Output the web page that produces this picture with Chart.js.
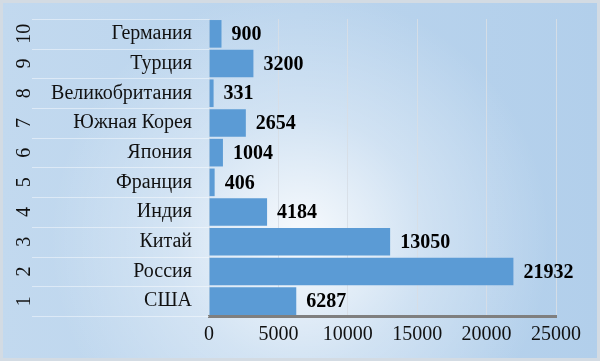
<!DOCTYPE html>
<html>
<head>
<meta charset="utf-8">
<script src="https://cdn.jsdelivr.net/npm/chart.js@4"></script>
<style>
  html, body { margin: 0; padding: 0; background: #fff; }
</style>
</head>
<body>
<canvas id="chart" width="600" height="361"></canvas>
<script>
// data, bottom to top as in the picture
let countries = ["США", "Россия", "Китай", "Индия", "Франция", "Япония", "Южная Корея", "Великобритания", "Турция", "Германия"];
let ranks = ["1", "2", "3", "4", "5", "6", "7", "8", "9", "10"];
let values = [6287, 21932, 13050, 4184, 406, 1004, 2654, 331, 3200, 900];
let xTicks = [0, 5000, 10000, 15000, 20000, 25000];

const serif = "'Liberation Serif', 'Times New Roman', serif";

// soft blue background with a lighter spot
const bgPlugin = {
    id: 'bg',
    beforeDraw(c) {
        let ctx = c.ctx;
        let w = c.width, h = c.height;
        ctx.save();
        let lg = ctx.createLinearGradient(0, 0, w, 0);
        lg.addColorStop(0, '#c2d9ef');
        lg.addColorStop(1, '#b2cfeb');
        ctx.fillStyle = lg;
        ctx.fillRect(0, 0, w, h);
        let rg = ctx.createRadialGradient(300, 240, 0, 300, 240, 250);
        rg.addColorStop(0, 'rgba(255,255,255,0.9)');
        rg.addColorStop(0.5, 'rgba(255,255,255,0.35)');
        rg.addColorStop(1, 'rgba(255,255,255,0)');
        ctx.fillStyle = rg;
        ctx.fillRect(0, 0, w, h);
        ctx.strokeStyle = '#d3dbe3';
        ctx.lineWidth = 3;
        ctx.strokeRect(1.5, 1.5, w - 3, h - 3);
        ctx.restore();
    },
    // row separators in the label column
    beforeDatasetsDraw(c) {
        let ctx = c.ctx;
        let y = c.scales.y;
        let left = c.scales.y2.left + 32;
        let step = Math.abs(y.getPixelForValue(1) - y.getPixelForValue(0));
        ctx.save();
        ctx.strokeStyle = 'rgba(255,255,255,0.45)';
        ctx.lineWidth = 1;
        for (let i = 0; i <= countries.length; i++) {
            let py = Math.round(y.getPixelForValue(i) + step / 2) + 0.5;
            ctx.beginPath();
            ctx.moveTo(left, py);
            ctx.lineTo(c.chartArea.left, py);
            ctx.stroke();
        }
        ctx.restore();
    }
};

const valueLabels = {
    id: 'valueLabels',
    afterDatasetsDraw(c) {
        let ctx = c.ctx;
        let meta = c.getDatasetMeta(0);
        ctx.save();
        ctx.font = 'bold 20px ' + serif;
        ctx.fillStyle = '#000';
        ctx.textAlign = 'left';
        ctx.textBaseline = 'middle';
        meta.data.forEach((bar, i) => {
            ctx.fillText(String(values[i]), bar.x + 10, bar.y + 1);
        });
        ctx.restore();
    }
};

function noPad(s) {
    s.paddingTop = 0;
    s.paddingBottom = 0;
}

chart = new Chart(document.getElementById('chart'), {
    type: 'bar',
    data: {
        labels: countries,
        datasets: [{
            data: values,
            backgroundColor: '#5b9bd5',
            borderWidth: 0,
            barPercentage: 0.93,
            categoryPercentage: 1
        }]
    },
    options: {
        indexAxis: 'y',
        responsive: false,
        animation: false,
        layout: { padding: { top: 19, right: 44, left: 0, bottom: 0 } },
        plugins: { legend: { display: false }, tooltip: { enabled: false } },
        scales: {
            x: {
                min: 0, max: 25000,
                afterBuildTicks: s => { s.ticks = xTicks.map(v => ({ value: v })); },
                grid: { color: 'rgba(215,222,230,0.9)', lineWidth: 1, drawTicks: false },
                border: { display: true, color: '#7f7f7f', width: 3 },
                ticks: {
                    color: '#111', font: { family: serif, size: 20 }, padding: 7,
                    autoSkip: false, maxRotation: 0, minRotation: 0,
                    callback: v => String(v)
                },
                afterFit: s => { s.height = 45; }
            },
            y: {
                position: 'left',
                weight: 0,
                reverse: true,
                grid: { display: false, drawTicks: false },
                border: { display: false },
                ticks: { color: '#111', font: { family: serif, size: 20 }, padding: 17, autoSkip: false },
                afterFit: s => { s.width = 169; noPad(s); }
            },
            y2: {
                type: 'category',
                labels: ranks,
                position: 'left',
                weight: 1,
                reverse: true,
                grid: { display: false, drawTicks: false },
                border: { display: false },
                ticks: {
                    color: '#111', font: { family: serif, size: 20 },
                    minRotation: 90, maxRotation: 90, autoSkip: false,
                    crossAlign: 'center', padding: 5
                },
                afterFit: s => { s.width = 40; noPad(s); }
            }
        }
    },
    plugins: [bgPlugin, valueLabels]
});
</script>
</body>
</html>
